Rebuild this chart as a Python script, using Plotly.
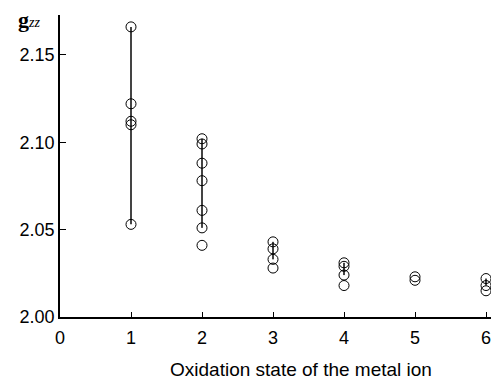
import plotly.graph_objects as go

# g_zz values grouped by oxidation state of the metal ion
ox_states = [1, 2, 3, 4, 5, 6]
gzz_values = [
    [2.166, 2.122, 2.112, 2.110, 2.053],
    [2.102, 2.099, 2.088, 2.078, 2.061, 2.051, 2.041],
    [2.043, 2.039, 2.033, 2.028],
    [2.031, 2.029, 2.024, 2.018],
    [2.023, 2.021],
    [2.022, 2.018, 2.015],
]
# vertical bar span drawn for each oxidation state (low, high)
bar_low = [2.053, 2.051, 2.033, 2.024, None, 2.018]
bar_high = [2.166, 2.102, 2.043, 2.031, None, 2.022]

x_ticks = [0, 1, 2, 3, 4, 5, 6]
y_ticks = [2.00, 2.05, 2.10, 2.15]
y_tick_text = ["2.00", "2.05", "2.10", "2.15"]

fig = go.Figure()

for x, lo, hi in zip(ox_states, bar_low, bar_high):
    if lo is None:
        continue
    fig.add_trace(go.Scatter(
        x=[x, x], y=[lo, hi], mode="lines",
        line=dict(color="#444444", width=2),
        hoverinfo="skip", showlegend=False,
    ))

for x, vals in zip(ox_states, gzz_values):
    fig.add_trace(go.Scatter(
        x=[x] * len(vals), y=vals, mode="markers",
        marker=dict(symbol="circle-open", size=10, color="black",
                    line=dict(color="black", width=1)),
        showlegend=False,
    ))

tick_font = dict(family="Liberation Sans, Arial, sans-serif", size=18, color="black")
title_font = dict(family="Liberation Sans, Arial, sans-serif", size=19, color="black")

fig.update_layout(
    width=491, height=381,
    margin=dict(l=60, r=0, t=15, b=64),
    paper_bgcolor="white", plot_bgcolor="white",
    font=tick_font,
    xaxis=dict(
        range=[0, 6.07], tickvals=x_ticks, ticks="inside", ticklen=5,
        tickcolor="black", tickwidth=1, ticklabelstandoff=4,
        ticklabeloverflow="allow",
        showline=True, linecolor="black", linewidth=1.5,
        showgrid=False, zeroline=False, tickfont=tick_font,
    ),
    yaxis=dict(
        range=[2.0, 2.1728], tickvals=y_ticks, ticktext=y_tick_text,
        ticks="inside", ticklen=6, tickcolor="black", tickwidth=1,
        showline=True, linecolor="black", linewidth=1.5,
        showgrid=False, zeroline=False, tickfont=tick_font,
    ),
    annotations=[
        dict(text="Oxidation state of the metal ion", xref="paper", yref="paper",
             x=(301 - 60) / 431, y=(317 - 369) / 302, xanchor="center", yanchor="middle",
             showarrow=False, font=title_font),
        dict(text="<b>g</b><span style='font-size:14px'><i>zz</i></span>",
             xref="paper", yref="paper",
             x=(29 - 60) / 431, y=(317 - 20) / 302, xanchor="center", yanchor="middle",
             showarrow=False,
             font=dict(family="Liberation Serif, Times New Roman, serif",
                       size=22, color="black")),
    ],
)

fig.write_html("out.html")
